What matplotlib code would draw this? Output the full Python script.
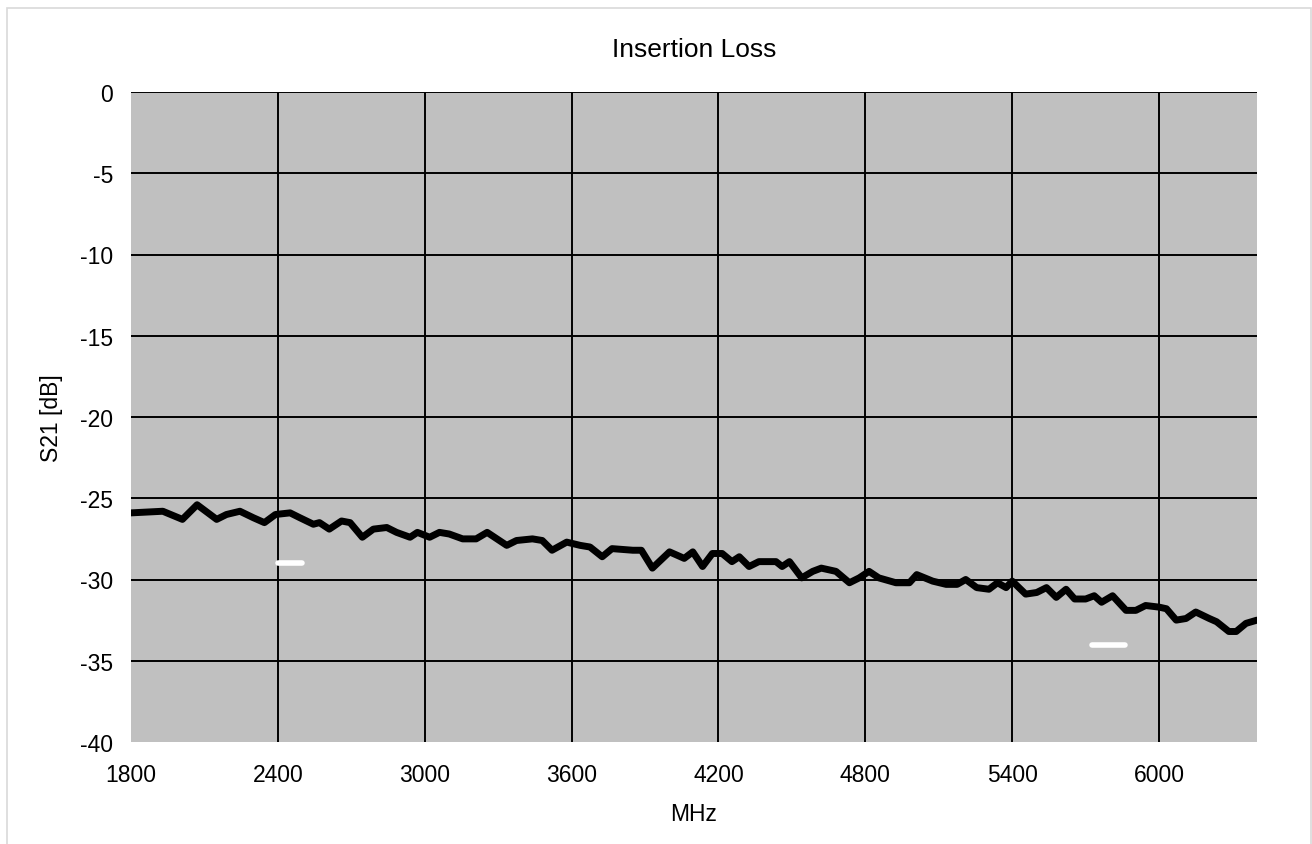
import matplotlib
matplotlib.use("Agg")
import matplotlib.pyplot as plt
from matplotlib.patches import Rectangle

plt.rcParams['font.family'] = ['Liberation Sans', 'DejaVu Sans']

freq_mhz = [1800, 1930, 2010, 2070, 2150, 2190, 2245, 2300, 2345, 2390,
            2450, 2490, 2545, 2570, 2610, 2660, 2695, 2745, 2790, 2845,
            2885, 2940, 2970, 3020, 3060, 3100, 3155, 3210, 3255, 3335,
            3375, 3440, 3480, 3520, 3580, 3635, 3675, 3725, 3765, 3850,
            3885, 3930, 4000, 4060, 4095, 4135, 4175, 4215, 4255, 4285,
            4325, 4365, 4435, 4460, 4490, 4540, 4585, 4620, 4680, 4735,
            4775, 4815, 4855, 4925, 4980, 5010, 5075, 5130, 5175, 5210,
            5255, 5305, 5340, 5375, 5400, 5455, 5500, 5540, 5580, 5620,
            5655, 5700, 5735, 5765, 5810, 5865, 5905, 5945, 6000, 6030,
            6070, 6110, 6150, 6205, 6235, 6285, 6315, 6355, 6400]
s21_db = [-25.9, -25.8, -26.3, -25.4, -26.3, -26.0, -25.8, -26.2, -26.5, -26.0,
          -25.9, -26.2, -26.6, -26.5, -26.9, -26.4, -26.5, -27.4, -26.9, -26.8,
          -27.1, -27.4, -27.1, -27.4, -27.1, -27.2, -27.5, -27.5, -27.1, -27.9,
          -27.6, -27.5, -27.6, -28.2, -27.7, -27.9, -28.0, -28.6, -28.1, -28.2,
          -28.2, -29.3, -28.3, -28.7, -28.3, -29.2, -28.4, -28.4, -28.9, -28.6,
          -29.2, -28.9, -28.9, -29.2, -28.9, -29.9, -29.5, -29.3, -29.5, -30.2,
          -29.9, -29.5, -29.9, -30.2, -30.2, -29.7, -30.1, -30.3, -30.3, -30.0,
          -30.5, -30.6, -30.2, -30.5, -30.1, -30.9, -30.8, -30.5, -31.1, -30.6,
          -31.2, -31.2, -31.0, -31.4, -31.0, -31.9, -31.9, -31.6, -31.7, -31.8,
          -32.5, -32.4, -32.0, -32.4, -32.6, -33.2, -33.2, -32.7, -32.5]

limit_freqs = [[2400, 2500], [5725, 5860]]
limit_vals = [-29, -34]

x_ticks = [1800, 2400, 3000, 3600, 4200, 4800, 5400, 6000]
y_ticks = [0, -5, -10, -15, -20, -25, -30, -35, -40]

W, H = 1312, 845
fig = plt.figure(figsize=(W / 100, H / 100), dpi=100)
fig.patches.append(Rectangle((7 / W, -0.1), (1311 - 7) / W, 1.1 - 9 / H,
                             transform=fig.transFigure, fill=False,
                             edgecolor='#d9d9d9', linewidth=1.2))
ax = fig.add_axes([131 / W, 1 - 743 / H, (1257 - 131) / W, (743 - 93) / H])
ax.set_facecolor('#c0c0c0')
ax.set_xlim(1800, 6400)
ax.set_ylim(-40, 0)
for s in ax.spines.values():
    s.set_visible(False)

for xt in x_ticks[1:]:
    ax.axvline(xt, color='black', linewidth=1.4, zorder=1)
for yt in y_ticks[:-1]:
    ax.axhline(yt, color='black', linewidth=1.4, zorder=1)

ax.plot(freq_mhz, s21_db, color='black', linewidth=5, solid_joinstyle='round',
        solid_capstyle='round', zorder=3)
for fr, v in zip(limit_freqs, limit_vals):
    ax.plot(fr, [v, v], color='white', linewidth=4, solid_capstyle='round', zorder=2)

ax.set_xticks(x_ticks)
ax.set_xticklabels([str(t) for t in x_ticks])
ax.set_yticks(y_ticks)
ax.set_yticklabels([str(t) for t in y_ticks])
ax.tick_params(length=0, labelsize=16.5, pad=15)
ax.tick_params(axis='y', pad=13)

ax.set_title('Insertion Loss', fontsize=19, pad=26)
ax.set_xlabel('MHz', fontsize=16.5, labelpad=12)
ax.set_ylabel('S21 [dB]', fontsize=16.5, labelpad=12)

fig.savefig('out.png', dpi=100)
